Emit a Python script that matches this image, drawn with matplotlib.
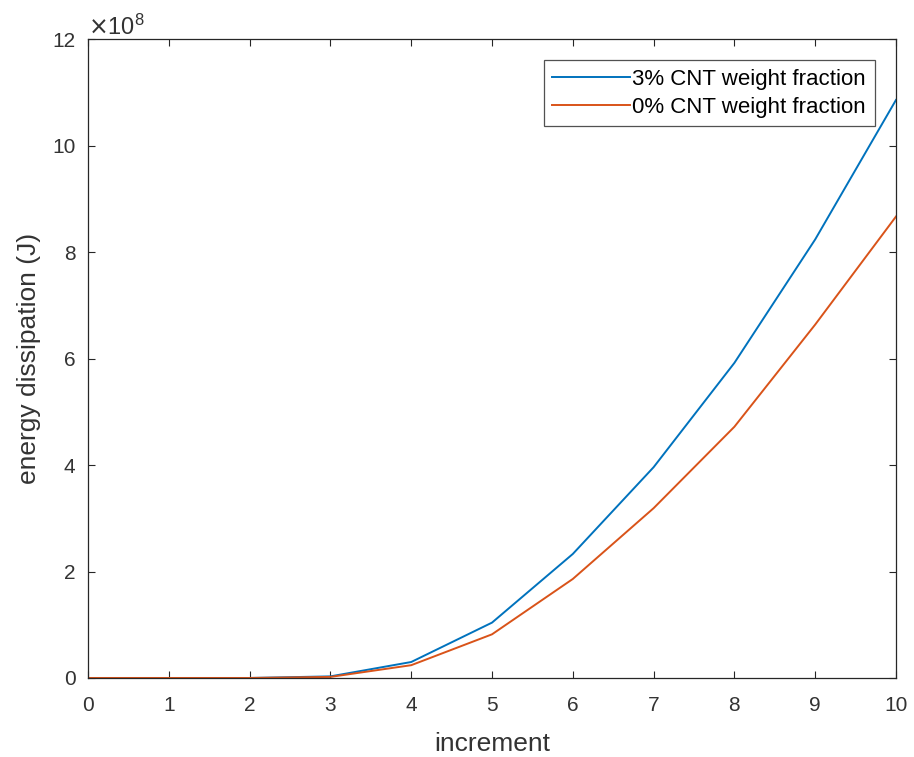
import matplotlib.pyplot as plt
from matplotlib.ticker import ScalarFormatter

plt.rcParams["font.family"] = ["Liberation Sans", "DejaVu Sans"]

increment = [0, 1, 2, 3, 4, 5, 6, 7, 8, 9, 10]
cnt3 = [0.0, 0.0, 0.0, 0.03e8, 0.30e8, 1.04e8, 2.33e8, 3.96e8, 5.92e8, 8.24e8, 10.86e8]
cnt0 = [0.0, 0.0, 0.0, 0.02e8, 0.24e8, 0.82e8, 1.86e8, 3.19e8, 4.72e8, 6.64e8, 8.67e8]
labels = ["3% CNT weight fraction", "0% CNT weight fraction"]

dark = "#262626"
text_grey = "#333333"


class Exp8Formatter(ScalarFormatter):
    # fixed x10^8 multiplier with integer tick labels, like MATLAB
    def _set_order_of_magnitude(self):
        self.orderOfMagnitude = 8

    def _set_format(self):
        self.format = "%d"


fig = plt.figure(figsize=(9.14, 7.57), dpi=100)
ax = fig.add_axes([0.0963, 0.1044, 0.884, 0.8437])

ax.plot(increment, cnt3, color="#0072BD", lw=1.4, label=labels[0])
ax.plot(increment, cnt0, color="#D95319", lw=1.4, label=labels[1])

ax.set_xlim(0, 10)
ax.set_ylim(0, 12e8)
ax.set_xticks(range(0, 11))
ax.set_yticks([i * 1e8 for i in range(0, 13, 2)])

ax.yaxis.set_major_formatter(Exp8Formatter(useMathText=True))
ax.yaxis.get_offset_text().set_fontsize(17)
ax.yaxis.get_offset_text().set_color(text_grey)

ax.tick_params(direction="in", top=True, right=True, labelsize=15,
               colors=dark, labelcolor=text_grey, length=5, width=0.8)
ax.tick_params(axis="x", pad=13)
ax.tick_params(axis="y", pad=9)
for s in ax.spines.values():
    s.set_color(dark)
    s.set_linewidth(0.9)

ax.set_xlabel("increment", fontsize=19, color=text_grey, labelpad=12)
ax.set_ylabel("energy dissipation (J)", fontsize=19, color=text_grey, labelpad=8)

leg = ax.legend(loc="upper right", fontsize=16, frameon=True, fancybox=False,
                handlelength=3.5, handletextpad=0.1, borderpad=0.4,
                labelspacing=0.3, borderaxespad=0,
                bbox_to_anchor=(0.974, 0.9676))
leg.get_frame().set_edgecolor(dark)
leg.get_frame().set_linewidth(0.9)

fig.savefig("out.png", dpi=100)
plt.close(fig)
